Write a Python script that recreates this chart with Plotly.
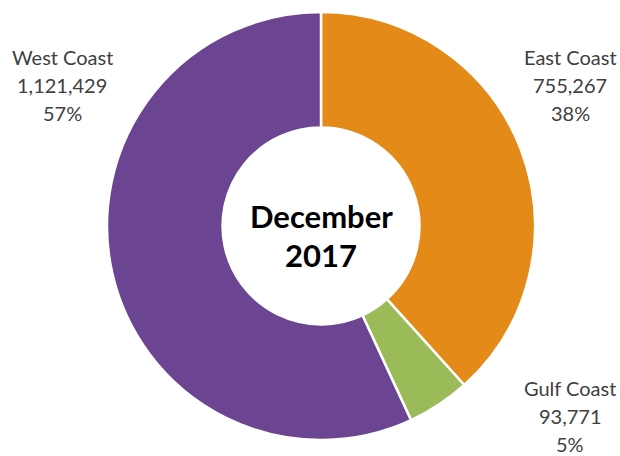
import plotly.graph_objects as go

regions = ["East Coast", "Gulf Coast", "West Coast"]
values = [755267, 93771, 1121429]
percents = ["38%", "5%", "57%"]
colors = ["#E38A18", "#9BBB59", "#6B4592"]
center_title = ["December", "2017"]

W, H = 620, 456
ML, MR, MT, MB = 22, 0, 12, 16
PW, PH = W - ML - MR, H - MT - MB


def px(x):
    return (x - ML) / PW


def py(y):
    return 1 - (y - MT) / PH


fig = go.Figure()
fig.add_trace(go.Pie(
    labels=regions,
    values=values,
    hole=0.46,
    sort=False,
    direction="clockwise",
    rotation=0,
    textinfo="none",
    hoverinfo="label+value+percent",
    marker=dict(colors=colors, line=dict(color="white", width=2.5)),
    showlegend=False,
    domain=dict(x=[0, 1], y=[0, 1]),
))

label_pos = {"East Coast": (570, 57), "Gulf Coast": (570, 388), "West Coast": (62, 57)}
for name, v, p in zip(regions, values, percents):
    cx, cy = label_pos[name]
    lines = [name, f"{v:,}", p]
    for i, line in enumerate(lines):
        fig.add_annotation(
            x=px(cx), y=py(cy + i * 28), xref="paper", yref="paper",
            text=line, showarrow=False,
            font=dict(family="Lato, Carlito, Calibri, sans-serif", size=20, color="#404040"),
            xanchor="center", yanchor="middle",
        )

for i, line in enumerate(center_title):
    fig.add_annotation(
        x=px(321), y=py(216 + i * 39), xref="paper", yref="paper",
        text="<b>" + line + "</b>",
        showarrow=False,
        font=dict(family="Lato, Carlito, Calibri, sans-serif", size=31, color="#000000"),
        xanchor="center", yanchor="middle",
    )

fig.update_layout(
    width=W, height=H,
    margin=dict(l=ML, r=MR, t=MT, b=MB),
    paper_bgcolor="white",
    plot_bgcolor="white",
)

fig.write_html("out.html")
